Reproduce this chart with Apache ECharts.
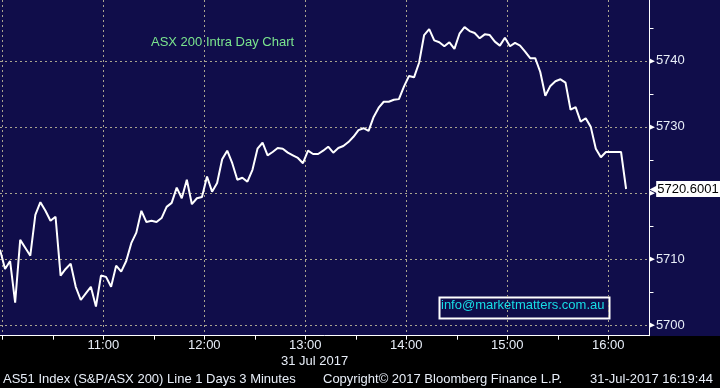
<!DOCTYPE html>
<html><head><meta charset="utf-8">
<script src="https://cdn.jsdelivr.net/npm/echarts@6/dist/echarts.min.js"></script>
<style>
html,body{margin:0;padding:0;background:#000;}
#c{width:720px;height:388px;background:linear-gradient(to bottom,#100d4a 0,#100d4a 336px,#000 336px,#000 388px);}
</style>
</head><body><div id="c"></div>
<script>
// ---- data ----
const firstPointMinute = 598.6;   // minutes since midnight of the first 3-minute point
const stepMinutes = 3;
const values = [
  5711.4, 5708.5, 5709.7, 5703.4, 5712.9, 5711.7, 5710.5, 5716.7, 5718.6, 5717.3,
  5715.8, 5716.4, 5707.5, 5708.5, 5709.3, 5705.8, 5703.8, 5704.8, 5705.8, 5702.8,
  5707.5, 5707.3, 5705.8, 5709.0, 5708.1, 5709.7, 5712.4, 5714.0, 5717.3, 5715.6,
  5715.8, 5715.6, 5716.2, 5717.9, 5718.5, 5720.8, 5719.2, 5722.0, 5718.3, 5719.2,
  5719.4, 5722.5, 5720.2, 5721.5, 5725.1, 5726.4, 5724.5, 5722.0, 5722.3, 5721.7,
  5723.5, 5726.7, 5727.6, 5725.7, 5726.2, 5726.8, 5726.7, 5726.1, 5725.7, 5725.3,
  5724.5, 5726.4, 5725.9, 5725.9, 5726.4, 5727.0, 5726.1, 5726.8, 5727.1, 5727.7,
  5728.5, 5729.5, 5729.8, 5729.4, 5731.5, 5732.9, 5733.8, 5733.8, 5734.1, 5734.2,
  5736.1, 5737.7, 5737.5, 5739.7, 5743.9, 5744.8, 5743.1, 5742.8, 5742.2, 5742.8,
  5741.8, 5744.1, 5745.1, 5744.5, 5744.2, 5743.4, 5744.0, 5743.9, 5742.9, 5742.3,
  5743.5, 5742.2, 5742.7, 5742.3, 5741.4, 5740.4, 5740.4, 5738.3, 5734.7, 5736.2,
  5736.9, 5737.2, 5736.7, 5732.6, 5733.0, 5730.8, 5731.3, 5730.0, 5726.7, 5725.4,
  5726.2, 5726.2, 5726.2, 5726.2, 5720.6001
];
const lastValueLabel = '5720.6001';
const hourTicks = [600, 660, 720, 780, 840, 900, 960];
const halfHourTicks = [600, 630, 660, 690, 720, 750, 780, 810, 840, 870, 900, 930, 960];
const hourLabels = [660, 720, 780, 840, 900, 960];
const priceLabels = [5700, 5710, 5720, 5730, 5740];
const priceTicks = [5700, 5705, 5710, 5715, 5720, 5725, 5730, 5735, 5740, 5745];
const chartTitle = 'ASX 200 Intra Day Chart';
const contactText = 'info@marketmatters.com.au';
const dateText = '31 Jul 2017';
const footerLeft = 'AS51 Index (S&P/ASX 200) Line 1 Days 3 Minutes';
const footerMid = 'Copyright\u00a9 2017 Bloomberg Finance L.P.';
const footerRight = '31-Jul-2017 16:19:44';

// ---- chart ----
const FONT = '"Liberation Sans", Arial, sans-serif';
const axisText = '#e8eef8';
const gridColor = '#a9a48f';
const xMin = firstPointMinute, xMax = 984.5;
const yMin = 5698.4, yMax = 5749.2;
const fmtTime = v => Math.floor(v / 60) + ':' + String(Math.round(v % 60)).padStart(2, '0');

const chart = echarts.init(document.getElementById('c'), null, {renderer: 'canvas'});
chart.setOption({
  animation: false,
  backgroundColor: 'transparent',
  grid: {left: 0, right: 70.5, top: 0, bottom: 52.3, containLabel: false},
  xAxis: [
    {
      type: 'value', min: xMin, max: xMax,
      axisLine: {show: true, onZero: false, lineStyle: {color: '#ffffff', width: 1}},
      axisTick: {show: true, inside: false, length: 4, customValues: halfHourTicks, lineStyle: {color: '#ffffff'}},
      axisLabel: {show: true, customValues: hourLabels, formatter: fmtTime, color: axisText,
        fontFamily: FONT, fontSize: 13, margin: 3},
      splitLine: {show: false}
    },
    {
      type: 'value', min: xMin, max: xMax, position: 'bottom',
      axisLine: {show: false}, axisLabel: {show: false},
      axisTick: {show: false, customValues: hourTicks},
      splitLine: {show: true, lineStyle: {color: gridColor, type: [2, 3], width: 1}}
    }
  ],
  yAxis: [
    {
      type: 'value', position: 'right', min: yMin, max: yMax,
      axisLine: {show: true, onZero: false, lineStyle: {color: '#ffffff', width: 1}},
      axisTick: {show: true, inside: false, length: 4, customValues: priceTicks, lineStyle: {color: '#ffffff'}},
      axisLabel: {show: true, customValues: priceLabels, margin: 0,
        formatter: v => '{a|\u25B6}{b|' + v + '}',
        rich: {
          a: {color: '#ffffff', fontSize: 7, fontFamily: 'DejaVu Sans', padding: [0, 1, 0, 0]},
          b: {color: axisText, fontSize: 13, fontFamily: FONT}
        }},
      splitLine: {show: false}
    },
    {
      type: 'value', position: 'right', min: yMin, max: yMax,
      axisLine: {show: false}, axisLabel: {show: false},
      axisTick: {show: false, customValues: priceLabels},
      splitLine: {show: true, lineStyle: {color: gridColor, type: [2, 3], width: 1}}
    }
  ],
  series: [{
    type: 'line',
    xAxisIndex: 0, yAxisIndex: 0,
    data: values.map((v, i) => [firstPointMinute + i * stepMinutes, v]),
    showSymbol: false, symbol: 'none',
    lineStyle: {color: '#ffffff', width: 2},
    z: 5,
    markLine: {
      silent: true, symbol: 'none', animation: false,
      lineStyle: {color: 'rgba(0,0,0,0)', width: 0},
      label: {
        show: true, position: 'end', distance: 0,
        formatter: '{a|\u25C0}{b|' + lastValueLabel + '}',
        rich: {
          a: {color: '#ffffff', fontSize: 10, fontFamily: 'DejaVu Sans', padding: [0, -1, 0, 0]},
          b: {color: '#000000', backgroundColor: '#ffffff', fontSize: 13, fontFamily: FONT, padding: [2, 2, 1, 1]}
        }
      },
      data: [{yAxis: values[values.length - 1]}]
    }
  }],
  graphic: [
    {type: 'text', left: 151, top: 36, style: {text: chartTitle, fill: '#7be58e', font: '13px ' + FONT}},
    {type: 'rect', left: 437, top: 295, shape: {x: 0, y: 0, width: 170, height: 21},
      style: {fill: 'none', stroke: '#ffffff', lineWidth: 2}},
    {type: 'text', left: 441, top: 299, style: {text: contactText, fill: '#17dde6', font: '13px ' + FONT}},
    {type: 'text', left: 281, top: 355, style: {text: dateText, fill: axisText, font: '13px ' + FONT}},
    {type: 'text', left: 3, top: 373, style: {text: footerLeft, fill: axisText, font: '13px ' + FONT}},
    {type: 'text', left: 323, top: 373, style: {text: footerMid, fill: axisText, font: '13px ' + FONT}},
    {type: 'text', left: 590, top: 373, style: {text: footerRight, fill: axisText, font: '13px ' + FONT}}
  ]
});
</script>
</body></html>
